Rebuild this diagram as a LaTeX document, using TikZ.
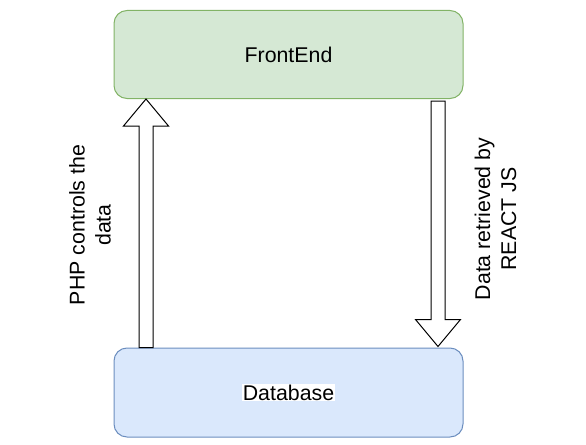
\documentclass[tikz,border=0pt]{standalone}
\usepackage{fontspec}
\setmainfont{Liberation Sans}
\usetikzlibrary{calc}

\newlength{\du}
\setlength{\du}{0.75pt}

\definecolor{frontfill}{HTML}{D5E8D4}
\definecolor{frontline}{HTML}{82B366}
\definecolor{dbfill}{HTML}{DAE8FC}
\definecolor{dbline}{HTML}{6C8EBF}

\tikzset{
  box/.style={draw, rounded corners=13\du, line width=1\du,
    minimum width=349\du, minimum height=88\du, inner sep=0pt},
  boxtext/.style={font=\fontsize{16}{19.5}\selectfont, inner sep=1\du},
  sidetext/.style={font=\fontsize{16}{19.5}\selectfont, align=center, rotate=90, inner sep=0pt},
  % hollow block arrow, head at the target
  blockarrow/.style={draw=black, fill=white, line width=1\du, line join=miter,
    to path={
      ($(\tikztostart)!7\du!90:(\tikztotarget)$)
      -- ($($(\tikztotarget)!27\du!(\tikztostart)$)!7\du!90:(\tikztotarget)$)
      -- ($($(\tikztotarget)!27\du!(\tikztostart)$)!22.5\du!90:(\tikztotarget)$)
      -- (\tikztotarget)
      -- ($($(\tikztotarget)!27\du!(\tikztostart)$)!22.5\du!-90:(\tikztotarget)$)
      -- ($($(\tikztotarget)!27\du!(\tikztostart)$)!7\du!-90:(\tikztotarget)$)
      -- ($(\tikztostart)!7\du!-90:(\tikztotarget)$)
      -- cycle}},
}

\begin{document}
\begin{tikzpicture}
\useasboundingbox (0,0) rectangle (586\du,444\du);

% boxes
\node[box, fill=frontfill, draw=frontline] (front) at (288.5\du,389.5\du) {};
\node[boxtext] (fronttxt) at (front) {FrontEnd};
\node[box, fill=dbfill, draw=dbline, minimum height=89\du] (db) at (288.5\du,51.5\du) {};
\node[boxtext, fill=white] (dbtxt) at (db) {Database};

% arrow ends
\coordinate (phpfrom) at (db.north -| 146\du,0);
\coordinate (phpto) at (front.south -| 146\du,0);
\coordinate (reactfrom) at (front.south -| 438\du,0);
\coordinate (reactto) at (db.north -| 438\du,0);

% arrows
\draw[blockarrow] (phpfrom) to (phpto);
\draw[blockarrow] ([yshift=-2\du]reactfrom) to ([yshift=1\du]reactto);

% labels
\node[sidetext] (phplabel) at (90\du,219\du) {PHP controls the\\data};
\node[sidetext] (reactlabel) at (495.5\du,225\du) {Data retrieved by\\REACT JS};
\end{tikzpicture}
\end{document}
